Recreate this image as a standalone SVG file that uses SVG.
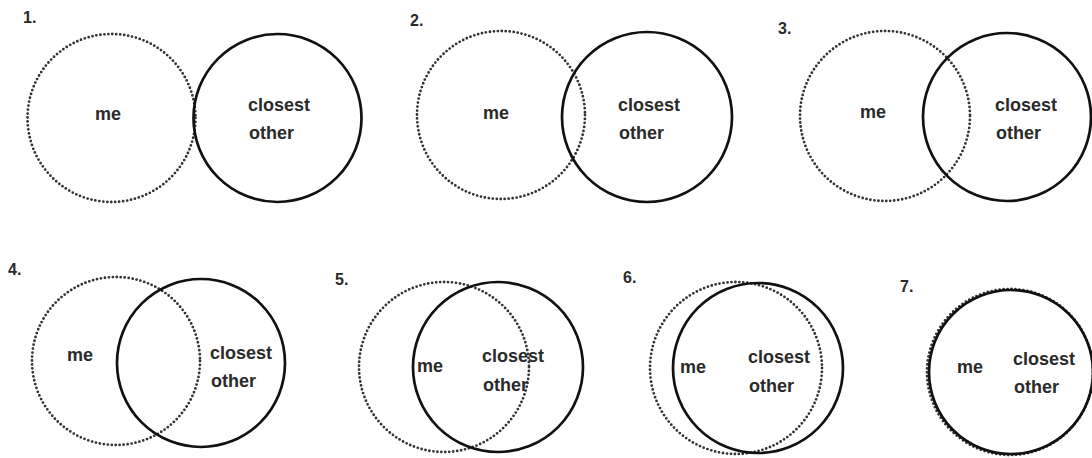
<svg xmlns="http://www.w3.org/2000/svg" width="1092" height="458" viewBox="0 0 1092 458">
<style>
.dot{fill:none;stroke:#333;stroke-width:2.8;stroke-dasharray:0 4;stroke-linecap:round}
.sol{fill:none;stroke:#111;stroke-width:2.7}
.t{font-family:"Liberation Sans",Arial,sans-serif;font-weight:bold;font-size:18px;fill:#2a2a2a}
.n{font-family:"Liberation Sans",Arial,sans-serif;font-weight:bold;font-size:16px;fill:#2a2a2a}
</style>
<rect width="1092" height="458" fill="#fff"/>
<g id="panel1">
<text class="n" x="23" y="23">1.</text>
<circle class="dot" cx="111.5" cy="118" r="84"/>
<circle class="sol" cx="277.5" cy="118" r="84"/>
<text class="t" x="95" y="120">me</text>
<text class="t" x="248" y="111">closest</text>
<text class="t" x="249" y="139">other</text>
</g>
<g id="panel2">
<text class="n" x="410" y="26">2.</text>
<circle class="dot" cx="501" cy="115" r="84"/>
<circle class="sol" cx="647" cy="117" r="85"/>
<text class="t" x="483" y="119">me</text>
<text class="t" x="618" y="111">closest</text>
<text class="t" x="619" y="139">other</text>
</g>
<g id="panel3">
<text class="n" x="778" y="34">3.</text>
<circle class="dot" cx="885" cy="116" r="85"/>
<circle class="sol" cx="1007" cy="117" r="84"/>
<text class="t" x="860" y="118">me</text>
<text class="t" x="995" y="111">closest</text>
<text class="t" x="996" y="139">other</text>
</g>
<g id="panel4">
<text class="n" x="8" y="275">4.</text>
<circle class="dot" cx="116" cy="361" r="84"/>
<circle class="sol" cx="201" cy="363" r="84"/>
<text class="t" x="67" y="361">me</text>
<text class="t" x="210" y="359">closest</text>
<text class="t" x="211" y="387">other</text>
</g>
<g id="panel5">
<text class="n" x="335" y="285">5.</text>
<circle class="dot" cx="444" cy="367" r="85"/>
<circle class="sol" cx="498" cy="367" r="85"/>
<text class="t" x="417" y="372">me</text>
<text class="t" x="482" y="362">closest</text>
<text class="t" x="483" y="391">other</text>
</g>
<g id="panel6">
<text class="n" x="623" y="283">6.</text>
<circle class="dot" cx="736" cy="368" r="86"/>
<circle class="sol" cx="758" cy="368" r="85"/>
<text class="t" x="680" y="373">me</text>
<text class="t" x="748" y="363">closest</text>
<text class="t" x="749" y="392">other</text>
</g>
<g id="panel7">
<text class="n" x="900" y="292">7.</text>
<circle class="dot" cx="1010" cy="372" r="83"/>
<circle class="sol" cx="1011" cy="372" r="82"/>
<text class="t" x="957" y="373">me</text>
<text class="t" x="1013" y="365">closest</text>
<text class="t" x="1014" y="393">other</text>
</g>
<g id="connectors"/>
</svg>
